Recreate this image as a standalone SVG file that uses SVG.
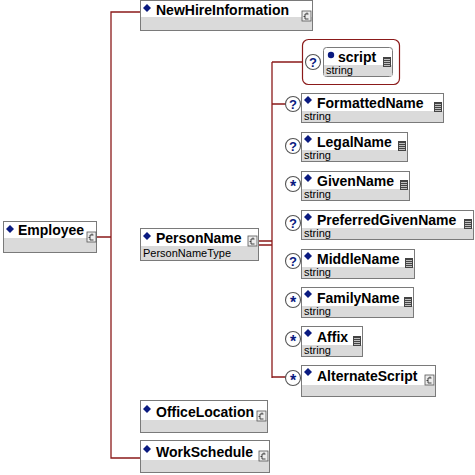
<svg xmlns="http://www.w3.org/2000/svg" width="475" height="475" viewBox="0 0 475 475">
<style>
.bx{fill:#fff;stroke:#7a7a7a;stroke-width:1}
.gr{fill:#dadada}
.nm{font-family:"Liberation Sans",Arial,sans-serif;font-weight:bold;font-size:14px;fill:#000}
.ty{font-family:"Liberation Sans",Arial,sans-serif;font-size:11px;fill:#000}
.dm{fill:#0a1a80}
.ln{fill:none;stroke:#8b1a1a;stroke-width:1.3}
.oc{fill:#fff;stroke:#555;stroke-width:1.1}
.oq{font-family:"Liberation Sans",Arial,sans-serif;font-weight:bold;font-size:13px;fill:#0a1a80;text-anchor:middle}
.os{font-family:"Liberation Sans",Arial,sans-serif;font-weight:bold;font-size:16px;fill:#0a1a80;text-anchor:middle}
.ci{fill:#ececec;stroke:#555;stroke-width:0.8}
.cg{fill:none;stroke:#333;stroke-width:0.9}
.di{fill:#444}
.dl{stroke:#ddd;stroke-width:0.8}
</style>
<defs>
<g id="cicon"><rect class="ci" x="0" y="0" width="9" height="10"/><path class="cg" d="M6.5 3 H3 V8 H6.5 M3 5.5 H1.5 M5 3 V1.5"/></g>
<g id="dicon"><rect class="di" x="0" y="0" width="8" height="10"/><path class="dl" d="M1 2.5 H7 M1 4.5 H7 M1 6.5 H7 M1 8.5 H7"/></g>
<path id="dia" class="dm" d="M0 -4 L4 0 L0 4 L-4 0 Z"/>
</defs>

<g id="connectors">
<path class="ln" d="M97 237 H111 M140 12 H111 V458 H140"/>
<path class="ln" d="M259 241 H272 M259 245 H272 M272 62 V378 M272 62 H302 M272 104 H286 M272 377 H286"/>
</g>

<g id="Employee">
<rect class="bx" x="3.5" y="221.5" width="93" height="31"/>
<rect class="gr" x="4" y="238" width="92" height="14"/>
<use href="#dia" x="10" y="229"/>
<text class="nm" x="18" y="235">Employee</text>
<use href="#cicon" x="87" y="232"/>
</g>

<g id="NewHireInformation">
<rect class="bx" x="140.5" y="0.5" width="172" height="30"/>
<rect class="gr" x="141" y="17" width="171" height="13"/>
<use href="#dia" x="147" y="8"/>
<text class="nm" x="156" y="15">NewHireInformation</text>
<use href="#cicon" x="302" y="11"/>
</g>

<g id="PersonName">
<rect class="bx" x="140.5" y="228.5" width="118" height="32"/>
<rect class="gr" x="141" y="246" width="117" height="14"/>
<use href="#dia" x="147" y="236"/>
<text class="nm" x="156" y="243">PersonName</text>
<text class="ty" x="143" y="257">PersonNameType</text>
<use href="#cicon" x="248" y="236"/>
</g>

<g id="OfficeLocation">
<rect class="bx" x="140.5" y="400.5" width="127" height="32"/>
<rect class="gr" x="141" y="420" width="126" height="12"/>
<use href="#dia" x="147" y="409"/>
<text class="nm" x="156" y="417">OfficeLocation</text>
<use href="#cicon" x="257" y="411"/>
</g>

<g id="WorkSchedule">
<rect class="bx" x="140.5" y="440.5" width="129" height="32"/>
<rect class="gr" x="141" y="460" width="128" height="12"/>
<use href="#dia" x="147" y="449"/>
<text class="nm" x="156" y="457">WorkSchedule</text>
<use href="#cicon" x="259" y="451"/>
</g>

<g id="script">
<rect x="302.5" y="39.5" width="97" height="45" rx="6" fill="#fff" stroke="#8b1a1a" stroke-width="1.2"/>
<circle class="oc" cx="313" cy="62" r="7.5"/>
<text class="oq" x="313" y="66.5">?</text>
<rect class="bx" x="323.5" y="47.5" width="69" height="29" rx="3"/>
<rect class="gr" x="324" y="65" width="68" height="11"/>
<circle class="dm" cx="331" cy="55" r="3.2"/>
<text class="nm" x="338" y="62">script</text>
<text class="ty" x="326" y="74">string</text>
<use href="#dicon" x="383" y="57"/>
</g>

<g id="FormattedName">
<circle class="oc" cx="293" cy="104" r="7.5"/><text class="oq" x="293" y="108.5">?</text>
<rect class="bx" x="301.5" y="93.5" width="142" height="29"/>
<rect class="gr" x="302" y="111" width="141" height="11"/>
<use href="#dia" x="308" y="100"/>
<text class="nm" x="317" y="108">FormattedName</text>
<text class="ty" x="304" y="120">string</text>
<use href="#dicon" x="434" y="102"/>
</g>

<g id="LegalName">
<circle class="oc" cx="293" cy="146" r="7.5"/><text class="oq" x="293" y="150.5">?</text>
<rect class="bx" x="301.5" y="132.5" width="106" height="29"/>
<rect class="gr" x="302" y="150" width="105" height="11"/>
<use href="#dia" x="308" y="139"/>
<text class="nm" x="317" y="147">LegalName</text>
<text class="ty" x="304" y="159">string</text>
<use href="#dicon" x="398" y="141"/>
</g>

<g id="GivenName">
<circle class="oc" cx="293" cy="184" r="7.5"/><text class="os" x="293" y="192">*</text>
<rect class="bx" x="301.5" y="171.5" width="108" height="29"/>
<rect class="gr" x="302" y="189" width="107" height="11"/>
<use href="#dia" x="308" y="178"/>
<text class="nm" x="317" y="186">GivenName</text>
<text class="ty" x="304" y="198">string</text>
<use href="#dicon" x="400" y="180"/>
</g>

<g id="PreferredGivenName">
<circle class="oc" cx="293" cy="223" r="7.5"/><text class="oq" x="293" y="227.5">?</text>
<rect class="bx" x="301.5" y="210.5" width="172" height="29"/>
<rect class="gr" x="302" y="228" width="171" height="11"/>
<use href="#dia" x="308" y="217"/>
<text class="nm" x="317" y="225">PreferredGivenName</text>
<text class="ty" x="304" y="237">string</text>
<use href="#dicon" x="464" y="219"/>
</g>

<g id="MiddleName">
<circle class="oc" cx="293" cy="261" r="7.5"/><text class="oq" x="293" y="265.5">?</text>
<rect class="bx" x="301.5" y="249.5" width="113" height="29"/>
<rect class="gr" x="302" y="267" width="112" height="11"/>
<use href="#dia" x="308" y="256"/>
<text class="nm" x="317" y="264">MiddleName</text>
<text class="ty" x="304" y="276">string</text>
<use href="#dicon" x="405" y="258"/>
</g>

<g id="FamilyName">
<circle class="oc" cx="293" cy="300" r="7.5"/><text class="os" x="293" y="308">*</text>
<rect class="bx" x="301.5" y="287.5" width="112" height="30"/>
<rect class="gr" x="302" y="306" width="111" height="11"/>
<use href="#dia" x="308" y="294"/>
<text class="nm" x="317" y="303">FamilyName</text>
<text class="ty" x="304" y="315">string</text>
<use href="#dicon" x="404" y="297"/>
</g>

<g id="Affix">
<circle class="oc" cx="293" cy="339" r="7.5"/><text class="os" x="293" y="347">*</text>
<rect class="bx" x="301.5" y="326.5" width="61" height="30"/>
<rect class="gr" x="302" y="345" width="60" height="11"/>
<use href="#dia" x="308" y="333"/>
<text class="nm" x="317" y="342">Affix</text>
<text class="ty" x="304" y="354">string</text>
<use href="#dicon" x="353" y="336"/>
</g>

<g id="AlternateScript">
<circle class="oc" cx="293" cy="378" r="7.5"/><text class="os" x="293" y="386">*</text>
<rect class="bx" x="301.5" y="365.5" width="134" height="31"/>
<rect class="gr" x="302" y="385" width="133" height="11"/>
<use href="#dia" x="308" y="372"/>
<text class="nm" x="317" y="381">AlternateScript</text>
<use href="#cicon" x="425" y="375"/>
</g>
</svg>
